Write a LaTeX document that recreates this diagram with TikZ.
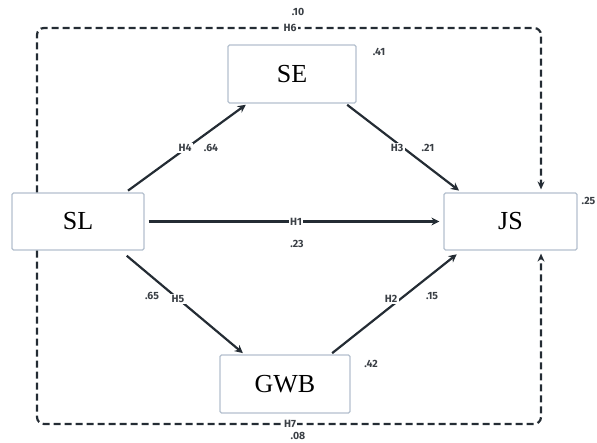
\documentclass[tikz,border=0pt]{standalone}
\usepackage{fontspec}
\setmainfont{Liberation Serif}
\newfontfamily\lblfont{Fira Sans}
\usetikzlibrary{arrows.meta}
\definecolor{boxline}{HTML}{B4C0CE}
\definecolor{ink}{HTML}{242C34}
\definecolor{lbl}{HTML}{3A3F45}
\tikzset{
  var/.style={draw=boxline, line width=1.2pt, rounded corners=1.5pt, fill=white,
    minimum width=130pt, minimum height=57pt, inner sep=0pt, font=\fontsize{26}{26}\selectfont, text=black},
  arr/.style={draw=ink, line width=2.2pt, -{Stealth[length=8pt,width=8pt]}},
  dsh/.style={draw=ink, line width=2.2pt, dash pattern=on 7pt off 4pt, rounded corners=7pt, -{Stealth[length=8pt,width=7pt]}},
  lab/.style={font=\lblfont\bfseries\fontsize{10.5}{10.5}\selectfont, text=lbl, inner sep=1pt},
  onl/.style={lab, fill=white, inner sep=1.5pt}
}
\begin{document}
\begin{tikzpicture}[x=1pt,y=-1pt]
\useasboundingbox (0,0) rectangle (597,443);
% boxes
\node[var, minimum width=128pt, minimum height=58pt] (SE) at (292,74) {SE};
\node[var, minimum width=132pt] (SL) at (78,221.5) {SL};
\node[var, minimum width=133pt] (JS) at (510.5,221.5) {JS};
\node[var, minimum width=130pt, minimum height=58pt] (GWB) at (285,384) {GWB};
% corners of the dashed loop
\coordinate (tl) at (37,28);
\coordinate (tr) at (541,28);
\coordinate (bl) at (37,424);
\coordinate (br) at (541,424);
% dashed paths
\draw[dsh, shorten >=3pt] (SL.north -| tl) -- (tl) -- (tr) -- (JS.north -| tr);
\draw[dsh, shorten >=3pt] (SL.south -| bl) -- (bl) -- (br) -- (JS.south -| br);
\node[onl] (h6) at (290,28) {H6};
\node[onl] (h7) at (290,424) {H7};
\node[lab] (v10) at (298,12) {.10};
\node[lab] (v08) at (298,436) {.08};
% solid arrows
\draw[arr, shorten <=3pt, shorten >=2pt] ([xshift=-19pt]SL.north east) -- ([xshift=20pt]SE.south west);
\draw[arr, shorten <=2pt, shorten >=3pt] ([xshift=-11pt]SE.south east) -- ([xshift=18pt]JS.north west);
\draw[arr, shorten <=4pt, shorten >=4pt] (SL.east) -- (JS.west);
\draw[arr, shorten <=8pt, shorten >=2pt] ([xshift=-24pt]SL.south east) -- ([xshift=25pt]GWB.north west);
\draw[arr, shorten <=2pt, shorten >=6pt] ([xshift=-20pt]GWB.north east) -- ([xshift=18pt]JS.south west);
% labels on arrows
\node[onl] (h4) at (185,148) {H4};
\node[lab] (v64) at (211,148) {.64};
\node[onl] (h3) at (397,148) {H3};
\node[lab] (v21) at (428,148) {.21};
\node[onl] (h1) at (296,222) {H1};
\node[lab] (v23) at (297,244) {.23};
\node[lab] (v65) at (152,296) {.65};
\node[onl] (h5) at (178,299) {H5};
\node[onl] (h2) at (391,299) {H2};
\node[lab] (v15) at (432,296) {.15};
% R-square labels
\node[lab] (v41) at (379,52) {.41};
\node[lab] (v42) at (371,364) {.42};
\node[lab, anchor=east] (v25) at (596.5,201) {.25};
\end{tikzpicture}
\end{document}
